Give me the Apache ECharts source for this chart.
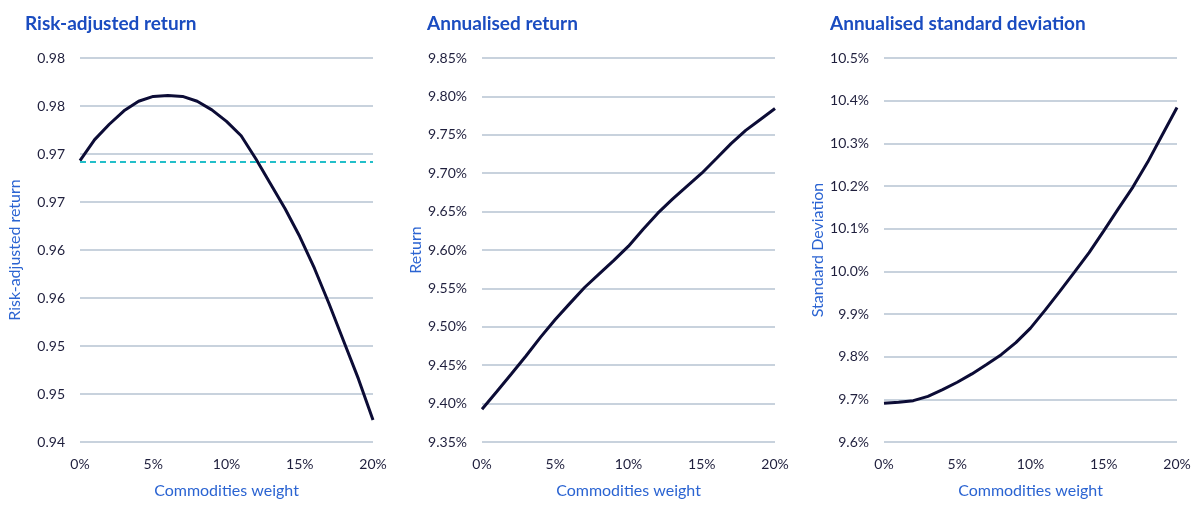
<!DOCTYPE html>
<html>
<head>
<meta charset="utf-8">
<script src="https://cdn.jsdelivr.net/npm/echarts@6/dist/echarts.min.js"></script>
<style>
html,body{margin:0;padding:0;background:#fff;}
#chart{width:1200px;height:512px;}
</style>
</head>
<body>
<div id="chart"></div>
<script>
// Commodities weight (%)
const weights = [0,1,2,3,4,5,6,7,8,9,10,11,12,13,14,15,16,17,18,19,20];
// Risk-adjusted return
const riskAdjusted = [0.9693,0.9715,0.9731,0.9745,0.9755,0.9760,0.9761,0.9760,0.9755,0.9746,0.9734,0.9719,0.9695,0.9669,0.9643,0.9614,0.9581,0.9544,0.9505,0.9466,0.9423];
const riskAdjustedBaseline = 0.9692;
// Annualised return (%)
const annReturn = [9.3927,9.4155,9.4385,9.4620,9.4866,9.5095,9.5305,9.5512,9.5688,9.5864,9.6050,9.6270,9.6480,9.6662,9.6831,9.7000,9.7192,9.7385,9.7557,9.7700,9.7843];
// Annualised standard deviation (%)
const annStd = [9.6906,9.6930,9.6969,9.7070,9.7227,9.7400,9.7596,9.7816,9.8047,9.8330,9.8670,9.9090,9.9530,9.9980,10.0439,10.0950,10.1470,10.1980,10.2560,10.3200,10.3840];

const titles = ['Risk-adjusted return','Annualised return','Annualised standard deviation'];
const yNames = ['Risk-adjusted return','Return','Standard Deviation'];
const xName = 'Commodities weight';
const xTicks = {min:0, max:20, interval:5};
const round = (v, d) => (Math.round(v * Math.pow(10, d) + 1e-6) / Math.pow(10, d)).toFixed(d);
const yScales = [
  {min:0.94, max:0.98, interval:0.005, fmt: v => round(v, 2)},
  {min:9.35, max:9.85, interval:0.05, fmt: v => round(v, 2) + '%'},
  {min:9.6, max:10.5, interval:0.1, fmt: v => round(v, 1) + '%'}
];
const seriesData = [riskAdjusted, annReturn, annStd];

const gridLefts = [80, 482, 884];
const gridWidth = 293;
const titleLefts = [20, 422, 825];

const FONT = 'Lato';
const chart = echarts.init(document.getElementById('chart'));

const option = {
  backgroundColor:'#fff',
  animation:false,
  title: titles.map((t,i)=>({
    text:t, left:titleLefts[i], top:9,
    textStyle:{fontFamily:FONT, fontSize:19, fontWeight:'bold', color:'#1a4cc0'}
  })),
  grid: gridLefts.map(l=>({left:l, width:gridWidth, top:58, bottom:70})),
  xAxis: gridLefts.map((l,i)=>({
    type:'value', gridIndex:i, min:xTicks.min, max:xTicks.max, interval:xTicks.interval,
    name:xName, nameLocation:'middle', nameGap:41,
    nameTextStyle:{fontFamily:FONT, fontSize:16, color:'#2b64d2'},
    axisLine:{show:false}, axisTick:{show:false}, splitLine:{show:false},
    axisLabel:{formatter:'{value}%', fontFamily:FONT, fontSize:14, color:'#1f1f3d', margin:15}
  })),
  yAxis: yScales.map((s,i)=>({
    type:'value', gridIndex:i, min:s.min, max:s.max, interval:s.interval,
    name:yNames[i], nameLocation:'middle', nameGap:57,
    nameTextStyle:{fontFamily:FONT, fontSize:16, color:'#2b64d2'},
    axisLine:{show:false}, axisTick:{show:false},
    splitLine:{lineStyle:{color:'#b6c3d2', width:1.5}},
    axisLabel:{formatter:s.fmt, fontFamily:FONT, fontSize:14, color:'#1f1f3d', margin:15}
  })),
  series: seriesData.map((d,i)=>{
    const s = {
      type:'line', xAxisIndex:i, yAxisIndex:i,
      data: weights.map((w,k)=>[w,d[k]]),
      showSymbol:false, smooth:false,
      lineStyle:{color:'#0c0c36', width:3},
      z:3
    };
    if(i===0){
      s.markLine = {
        silent:true, symbol:'none', precision:4, label:{show:false},
        lineStyle:{color:'#22bfc9', type:[6,4], width:1.8},
        data:[{yAxis:riskAdjustedBaseline}]
      };
    }
    return s;
  })
};
chart.setOption(option);
</script>
</body>
</html>
